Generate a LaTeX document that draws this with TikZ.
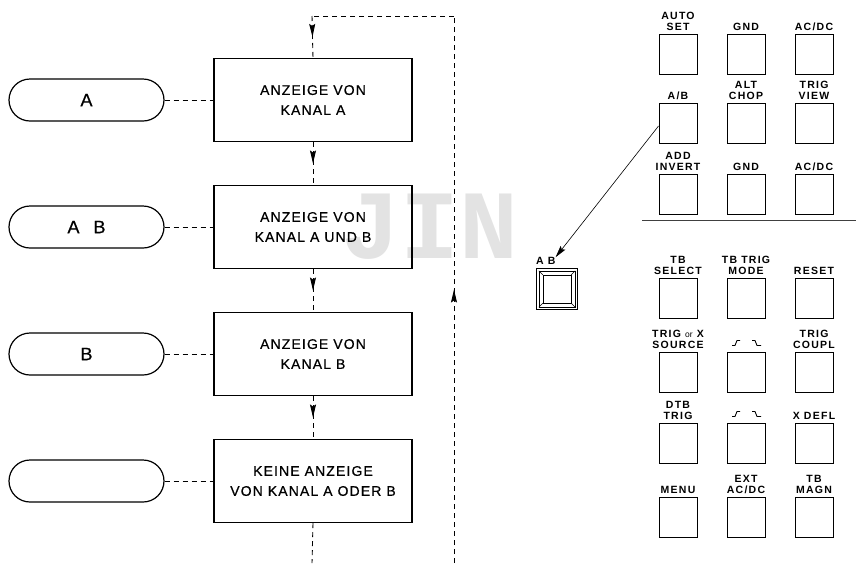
\documentclass[tikz,border=0pt]{standalone}
\usepackage{fontspec}
\setmainfont{Liberation Sans}
\newfontfamily\flowfont{Liberation Sans}[LetterSpace=8,FakeBold=0.6]
\newfontfamily\keyfont{Liberation Sans}[LetterSpace=12]
\newfontfamily\stampfont{Liberation Mono}
\usetikzlibrary{arrows.meta, decorations.markings}

\begin{document}
\begin{tikzpicture}[x=1pt, y=-1pt,
    flowbox/.style={draw, line width=1.4pt, minimum width=198pt, minimum height=83pt,
      align=center, font=\flowfont\fontsize{14}{20}\selectfont},
    pill/.style={draw, line width=1.2pt, rounded corners=21pt, minimum width=155pt,
      minimum height=42pt, font=\flowfont\fontsize{18}{20}\selectfont},
    link/.style={line width=0.9pt, dash pattern=on 5pt off 4pt},
    midarrow/.style={postaction={decorate}, decoration={markings,
      mark=at position 0.5 with {\arrow{Stealth[length=13pt,width=6pt,inset=2pt]}}}},
    key/.style={draw, line width=1pt, minimum width=38pt, minimum height=40pt, inner sep=0pt},
    keylabel/.style={anchor=south, inner sep=0pt, text depth=0pt, align=center,
      font=\keyfont\bfseries\fontsize{10.5}{11}\selectfont},
  ]
  \useasboundingbox (0,0) rectangle (856,563);

  % Watermark
  \node[text=black!11, inner sep=0pt, font=\stampfont\bfseries\fontsize{98}{98}\selectfont]
    (stamp) at (430,227) {JIN};

  % Selector states on the left
  \node[pill] (selA) at (86.5,100) {A};
  \node[pill] (selAB) at (86.5,227) {A\hspace{14pt}B};
  \node[pill] (selB) at (86.5,354) {B};
  \node[pill] (selNone) at (86.5,481) {};

  % Display states
  \node[flowbox] (showA) at (313,100) {ANZEIGE VON\\KANAL A};
  \node[flowbox] (showAB) at (313,227) {ANZEIGE VON\\KANAL A UND B};
  \node[flowbox] (showB) at (313,354) {ANZEIGE VON\\KANAL B};
  \node[flowbox] (showNone) at (313,481) {KEINE ANZEIGE\\VON KANAL A ODER B};

  % Dashed links between states and boxes
  \foreach \s/\b in {selA/showA, selAB/showAB, selB/showB, selNone/showNone}
    \draw[link] (\s.east) -- (\b.west);

  % Corners of the return loop
  \coordinate (loopTL) at (312,16);
  \coordinate (loopTR) at (454,16);
  \coordinate (loopBR) at (454,563);
  \coordinate (loopBL) at (312,563);

  % Flow down the chain
  \draw[link, midarrow] (loopTL) -- (showA.north);
  \draw[link, midarrow] (showA.south) -- (showAB.north);
  \draw[link, midarrow] (showAB.south) -- (showB.north);
  \draw[link, midarrow] (showB.south) -- (showNone.north);
  \draw[link] (showNone.south) -- (loopBL);

  % Return path
  \draw[link, midarrow] (loopBR) -- (loopTR);
  \draw[link] (loopTR) -- (loopTL);

  % Upper key block
  \foreach \c/\x in {1/678,2/746,3/814}
    \foreach \r/\y in {1/54,2/123,3/194}
      \node[key] (up-\r-\c) at (\x,\y) {};
  \foreach \r/\c/\txt in {1/1/{AUTO\\SET}, 1/2/{GND}, 1/3/{AC/DC},
                          2/1/{A/B}, 2/2/{ALT\\CHOP}, 2/3/{TRIG\\VIEW},
                          3/1/{ADD\\INVERT}, 3/2/{GND}, 3/3/{AC/DC}}
    \node[keylabel] at ([yshift=3pt]up-\r-\c.north) {\txt};

  % Separator
  \draw[line width=1pt, black!75] (642,220) -- (856,220);

  % Lower key block
  \foreach \c/\x in {1/678,2/746,3/814}
    \foreach \r/\y in {1/298,2/372,3/443,4/517}
      \node[key] (low-\r-\c) at (\x,\y) {};
  \foreach \r/\c/\txt in {1/1/{TB\\SELECT}, 1/2/{TB TRIG\\MODE}, 1/3/{RESET},
                          2/1/{TRIG {\normalfont\fontsize{8.5}{10}\selectfont or} X\\SOURCE}, 2/3/{TRIG\\COUPL},
                          3/1/{DTB\\TRIG}, 3/3/{X DEFL},
                          4/1/{MENU}, 4/2/{EXT\\AC/DC}, 4/3/{TB\\MAGN}}
    \node[keylabel] at ([yshift=3pt]low-\r-\c.north) {\txt};

  % Slope symbols
  \foreach \r in {2,3} {
    \draw[line width=0.9pt] ([xshift=-14pt,yshift=6pt]low-\r-2.north)
      -- ++(3,0) -- ++(2,-5) -- ++(3,0);
    \draw[line width=0.9pt] ([xshift=6pt,yshift=11pt]low-\r-2.north)
      -- ++(3,0) -- ++(2,5) -- ++(4,0);
  }

  % Enlarged A/B key
  \node[draw, line width=1.3pt, minimum size=41pt, inner sep=0pt] (abKey) at (557,289) {};
  \draw[line width=0.7pt] ([xshift=3pt,yshift=-3pt]abKey.north west)
    rectangle ([xshift=-3pt,yshift=3pt]abKey.south east);
  \draw[line width=0.5pt] ([xshift=7pt,yshift=-7pt]abKey.north west)
    rectangle ([xshift=-7pt,yshift=7pt]abKey.south east);
  \foreach \a/\sx/\sy in {north west/1/-1, north east/-1/-1, south west/1/1, south east/-1/1}
    \draw[line width=0.5pt] ([xshift=\sx*3pt,yshift=\sy*3pt]abKey.\a)
      -- ([xshift=\sx*7pt,yshift=\sy*7pt]abKey.\a);
  \node[keylabel, anchor=south west] (abLabel) at ([yshift=3pt]abKey.north west) {A B};

  % Pointer to the enlarged key
  \draw[line width=0.6pt, -{Stealth[length=12pt,width=6pt,inset=2pt]}]
    ([yshift=-3pt]up-2-1.west) -- (abLabel.north east);
\end{tikzpicture}
\end{document}
